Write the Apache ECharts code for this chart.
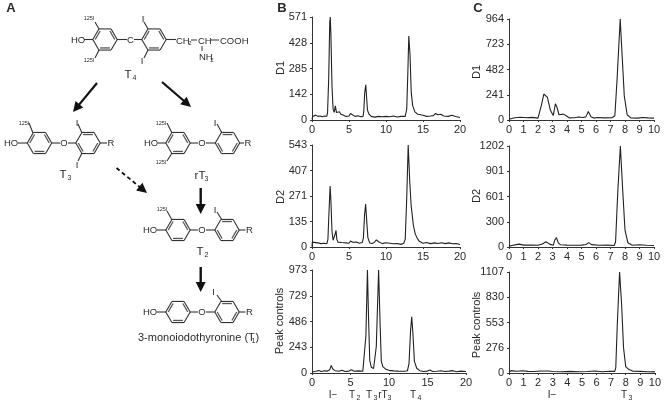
<!DOCTYPE html>
<html><head><meta charset="utf-8">
<style>html,body{margin:0;padding:0;background:#fff}#c{width:664px;height:405px}</style>
<script src="https://cdn.jsdelivr.net/npm/echarts@6/dist/echarts.min.js"></script>
</head><body><div id="c"></div>
<script>
var xTicksB=[0,5,10,15,20];
var xTicksC=[0,1,2,3,4,5,6,7,8,9,10];
var yTicksBD1=['0','142','285','428','571'];
var yTicksBD2=['0','135','271','407','543'];
var yTicksBPeak=['0','243','486','729','973'];
var yTicksCD1=['0','241','482','723','964'];
var yTicksCD2=['0','300','601','901','1202'];
var yTicksCPeak=['0','276','553','830','1107'];

var traceBD1=[[0,4],[0.1,20],[0.3,24],[0.5,27],[0.8,20],[1.1,22],[1.4,18],[1.7,22],[2,21],[2.1,40],[2.25,220],[2.4,540],[2.47,571],[2.55,480],[2.7,190],[2.85,60],[3,42],[3.15,78],[3.3,42],[3.5,36],[3.7,46],[3.9,32],[4.2,28],[4.6,20],[5,22],[5.2,36],[5.45,26],[5.8,20],[6.2,24],[6.6,18],[6.9,20],[7.0,50],[7.12,150],[7.27,195],[7.38,125],[7.5,55],[7.7,32],[8,20],[8.5,16],[9,20],[9.2,26],[9.5,18],[10,20],[10.5,18],[11,22],[11.5,17],[12,20],[12.6,20],[12.8,60],[12.95,260],[13.08,465],[13.25,360],[13.4,160],[13.6,80],[13.9,45],[14.3,32],[15,26],[15.5,20],[16,22],[16.4,24],[16.7,36],[17,29],[17.4,32],[17.8,22],[18.4,20],[18.9,26],[19.4,19],[20,14]];
var traceBD2=[[0,2],[0.05,26],[0.3,19],[0.8,22],[1.2,18],[1.6,20],[2,17],[2.15,40],[2.3,190],[2.45,325],[2.55,250],[2.7,85],[2.85,36],[3,32],[3.1,65],[3.25,88],[3.35,42],[3.5,26],[4,24],[4.6,22],[5,20],[5.2,32],[5.5,25],[6,27],[6.4,20],[6.8,24],[6.95,50],[7.1,170],[7.25,228],[7.4,135],[7.55,50],[7.8,21],[8.1,19],[8.4,24],[8.7,38],[9,28],[9.5,18],[10,23],[10.5,20],[11,17],[11.5,19],[12,14],[12.4,20],[12.6,42],[12.8,260],[13,543],[13.2,355],[13.4,220],[13.7,115],[13.95,70],[14.2,48],[14.5,30],[15,20],[15.5,24],[16,18],[16.6,22],[17,19],[17.5,23],[18,18],[18.5,22],[19,17],[19.5,19],[20,13]];
var traceBPeak=[[0,10],[0.2,22],[0.5,16],[0.9,24],[1.2,14],[1.6,22],[2,18],[2.3,30],[2.5,72],[2.7,38],[3,22],[3.5,16],[3.9,26],[4.3,14],[4.8,18],[5.1,30],[5.5,16],[6,20],[6.6,16],[6.85,30],[7,350],[7.2,973],[7.35,500],[7.5,120],[7.7,55],[8,42],[8.2,40],[8.35,250],[8.65,973],[8.85,450],[9,110],[9.2,60],[9.6,35],[10,25],[10.6,20],[11.2,18],[12,16],[12.4,22],[12.6,90],[12.8,400],[12.95,530],[13.1,380],[13.3,110],[13.6,45],[14,22],[14.5,14],[15,18],[15.3,28],[15.7,14],[16.2,16],[16.8,22],[17.2,14],[17.8,18],[18.3,22],[18.8,12],[19.3,18],[20,14]];
var traceCD1=[[0,8],[0.1,24],[0.4,22],[0.8,26],[1.2,22],[1.6,25],[2,18],[2.1,30],[2.25,150],[2.4,248],[2.5,262],[2.65,215],[2.85,95],[3.05,42],[3.2,155],[3.3,125],[3.45,50],[3.55,32],[3.75,56],[3.95,40],[4.15,20],[4.5,22],[4.8,28],[5.1,24],[5.3,30],[5.47,82],[5.65,32],[5.85,18],[6.1,24],[6.6,20],[7.1,22],[7.3,40],[7.45,380],[7.67,964],[7.8,620],[7.95,230],[8.15,50],[8.4,20],[8.9,18],[9.2,24],[9.6,20],[10,18]];
var traceCD2=[[0,10],[0.2,18],[0.5,28],[0.7,34],[1,22],[1.5,24],[2,20],[2.3,36],[2.55,62],[2.8,34],[3.05,20],[3.15,80],[3.27,112],[3.4,50],[3.55,26],[4,22],[4.5,20],[5,22],[5.3,30],[5.5,52],[5.7,28],[6.2,20],[6.8,22],[7.25,18],[7.35,60],[7.5,650],[7.68,1202],[7.85,650],[8,200],[8.2,50],[8.5,20],[9,26],[9.5,20],[10,18]];
var traceCPeak=[[0,8],[0.15,26],[0.5,20],[0.9,24],[1.3,18],[1.4,26],[1.7,16],[2.2,22],[2.7,22],[3,16],[3.6,14],[4.2,18],[4.8,14],[5.4,16],[5.9,22],[6.4,14],[6.9,20],[7.25,18],[7.32,60],[7.42,520],[7.58,1107],[7.72,750],[7.85,280],[8,70],[8.2,40],[8.5,20],[9,18],[9.5,14],[10,12]];

var panels=[
 {l:312,r:460,t:17,b:120,maxX:20,iv:5,x:xTicksB,y:yTicksBD1,d:traceBD1},
 {l:312,r:460,t:145,b:247,maxX:20,iv:5,x:xTicksB,y:yTicksBD2,d:traceBD2},
 {l:312,r:466,t:270,b:373,maxX:20,iv:5,x:xTicksB,y:yTicksBPeak,d:traceBPeak},
 {l:509,r:654,t:19,b:120,maxX:10,iv:1,x:xTicksC,y:yTicksCD1,d:traceCD1},
 {l:509,r:654,t:146,b:247,maxX:10,iv:1,x:xTicksC,y:yTicksCD2,d:traceCD2},
 {l:509,r:658,t:272,b:373,maxX:10,iv:1,x:xTicksC,y:yTicksCPeak,d:traceCPeak}
];
var FONT='"Liberation Sans", Arial, sans-serif', INK='#2a2a2a';
var grids=[],xs=[],ys=[],ser=[];
panels.forEach(function(p,i){
  var ymax=+p.y[4];
  grids.push({left:p.l,top:p.t,width:p.r-p.l,height:p.b-p.t});
  xs.push({type:'value',gridIndex:i,min:0,max:p.maxX,interval:p.iv,
    axisLine:{lineStyle:{color:'#333',width:1}},axisTick:{length:2,inside:false,lineStyle:{color:'#333'}},
    axisLabel:{color:INK,fontFamily:FONT,fontSize:11,margin:4,hideOverlap:false},splitLine:{show:false}});
  ys.push({type:'value',gridIndex:i,min:0,max:ymax,interval:ymax/4,
    axisLine:{show:true,lineStyle:{color:'#333',width:1}},axisTick:{show:true,length:2,lineStyle:{color:'#333'}},
    axisLabel:{color:INK,fontFamily:FONT,fontSize:11,margin:5,formatter:(function(a){return function(v,idx){return a[idx]};})(p.y)},splitLine:{show:false}});
  ser.push({type:'line',xAxisIndex:i,yAxisIndex:i,data:p.d,showSymbol:false,symbol:'none',smooth:false,clip:false,
    lineStyle:{color:'#222',width:1.1},silent:true});
});

var g=[];
function txt(x,y,s,o){o=o||{};g.push({type:'text',x:x,y:y,rotation:o.rot||0,silent:true,
  style:{text:s,fill:o.fill||INK,font:(o.bold?'bold ':'')+(o.size||10)+'px '+FONT,align:o.align||'center',verticalAlign:'middle'}});}
function seg(x1,y1,x2,y2,w,c,dash){g.push({type:'line',silent:true,shape:{x1:x1,y1:y1,x2:x2,y2:y2},
  style:{stroke:c||'#333',lineWidth:w||1,lineDash:dash||null}});}
function sub(x,y,m,s,size){txt(x,y,m,{size:size||11.5});txt(x+6.5,y+3.5,s,{size:7});}
function ring(cx,cy,thick){var r=12.2,pts=[];
  for(var i=0;i<6;i++){var a=i*Math.PI/3;pts.push([cx+r*Math.cos(a),cy+r*Math.sin(a)]);}
  for(i=0;i<6;i++){var p=pts[i],q=pts[(i+1)%6];seg(p[0],p[1],q[0],q[1],1.1,'#333');}
  thick.forEach(function(k){var p=pts[k],q=pts[(k+1)%6],f=0.8;
    seg(cx+(p[0]-cx)*f,cy+(p[1]-cy)*f,cx+(q[0]-cx)*f,cy+(q[1]-cy)*f,1.3,'#555');});
}
function arrow(x1,y1,x2,y2,w,dash){var dx=x2-x1,dy=y2-y1,L=Math.sqrt(dx*dx+dy*dy),ux=dx/L,uy=dy/L,h=10,hw=5;
  var bx=x2-ux*h,by=y2-uy*h;
  seg(x1,y1,bx+ux*2,by+uy*2,w,'#111',dash);
  g.push({type:'polygon',silent:true,shape:{points:[[x2,y2],[bx-uy*hw,by+ux*hw],[bx+uy*hw,by-ux*hw]]},style:{fill:'#111'}});
}
function ether(hoX,r1,oX,r2,rX,y){
  txt(hoX,y,'HO',{size:9.5});seg(hoX+7,y,r1-12,y,1.1);
  ring(r1,y,[5,1,3]);ring(r2,y,[0,2,4]);
  seg(r1+12,y,oX-4,y,1.1);txt(oX,y,'O',{size:9.5});seg(oX+4,y,r2-12,y,1.1);
  seg(r2+12,y,rX-4,y,1.1);txt(rX,y,'R',{size:9.5});
}
txt(11,8,'A',{bold:true,size:13});txt(282,8,'B',{bold:true,size:13});txt(478,8,'C',{bold:true,size:13});
// T4
txt(78,40,'HO',{size:9.5});seg(84,39.5,93,39.5,1.1);ring(105,39.5,[5,1,3]);ring(154,39.5,[5,1,3]);
seg(117,39.5,127,39.5,1.1);txt(130.5,40,'C',{size:9.5});seg(134,39.5,142,39.5,1.1);seg(166,39.5,176,39.5,1.1);
seg(99,29,95,22,1.1);seg(99,50,95,58,1.1);txt(89,18,'125I',{size:5.5});txt(89,60,'125I',{size:5.5});
seg(148,29,144,22,1.1);seg(148,50,144,58,1.1);txt(143,19,'I',{size:9.5});txt(142,61,'I',{size:9.5});
txt(176,41,'CH',{size:9.5,align:'left'});txt(190,43.5,'2',{size:6});seg(191,40,197,40,1);
txt(198,41,'CH',{size:9.5,align:'left'});seg(211,40,219,40,1);txt(220,41,'COOH',{size:9.5,align:'left'});
seg(202,46,202,51,1);txt(199,57,'NH',{size:9.5,align:'left'});txt(212,60,'2',{size:6});
sub(128,75,'T','4');
arrow(97,83,73,112,2.2);arrow(162,82,191,107,2.2);
// T3
ether(11,39.5,64,88,111,143);
seg(33,133,29,123,1.1);txt(24,123,'125I',{size:5.5});
seg(82,133,78,124,1.1);txt(77,123,'I',{size:9.5});seg(82,153,78,161,1.1);txt(77,165,'I',{size:9.5});
sub(63,175,'T','3');
// rT3
ether(151,178,202,227.5,248,143);
seg(172,133,167,123,1.1);seg(172,153,167,161,1.1);txt(161,123,'125I',{size:5.5});txt(161,162,'125I',{size:5.5});
seg(222,133,217,124,1.1);txt(215,123,'I',{size:9.5});
sub(200,176,'rT','3');
arrow(116.5,168,147,193,1.8,[4,3]);
arrow(200.7,188,200.7,214,2.4);
// T2
ether(150,178,202,227,249.5,230);
seg(172,220,167,211,1.1);txt(162,209,'125I',{size:5.5});
seg(222,220,217,212,1.1);txt(215,210,'I',{size:9.5});
sub(200,252,'T','2');
arrow(200.7,267,200.7,292,2.4);
// T1
ether(150,178,202,227,249.5,312);
seg(222,302,217,295,1.1);txt(213.5,292,'I',{size:9.5});
txt(138,338,'3-monoiodothyronine (T',{size:11,align:'left'});txt(253.5,341.5,'1',{size:7});txt(255.5,338,')',{size:11,align:'left'});
// axis titles
[[281,68,'D1'],[281,197,'D2'],[280,321,'Peak controls'],[477,72,'D1'],[477,196,'D2'],[477,325,'Peak controls']].forEach(function(t){
  txt(t[0],t[1],t[2],{size:11,rot:Math.PI/2});});
// peak labels
txt(333,395,'I\u2212',{size:10});sub(352,395,'T','2',10);sub(369,395,'T','3',10);sub(383,395,'rT','3',10);sub(413,395,'T','4',10);
txt(552,395,'I\u2212',{size:10});sub(624,395,'T','3',10);

var chart=echarts.init(document.getElementById('c'),null,{renderer:'canvas',width:664,height:405});
chart.setOption({animation:false,backgroundColor:'#fff',grid:grids,xAxis:xs,yAxis:ys,series:ser,graphic:{elements:g}});
</script></body></html>
